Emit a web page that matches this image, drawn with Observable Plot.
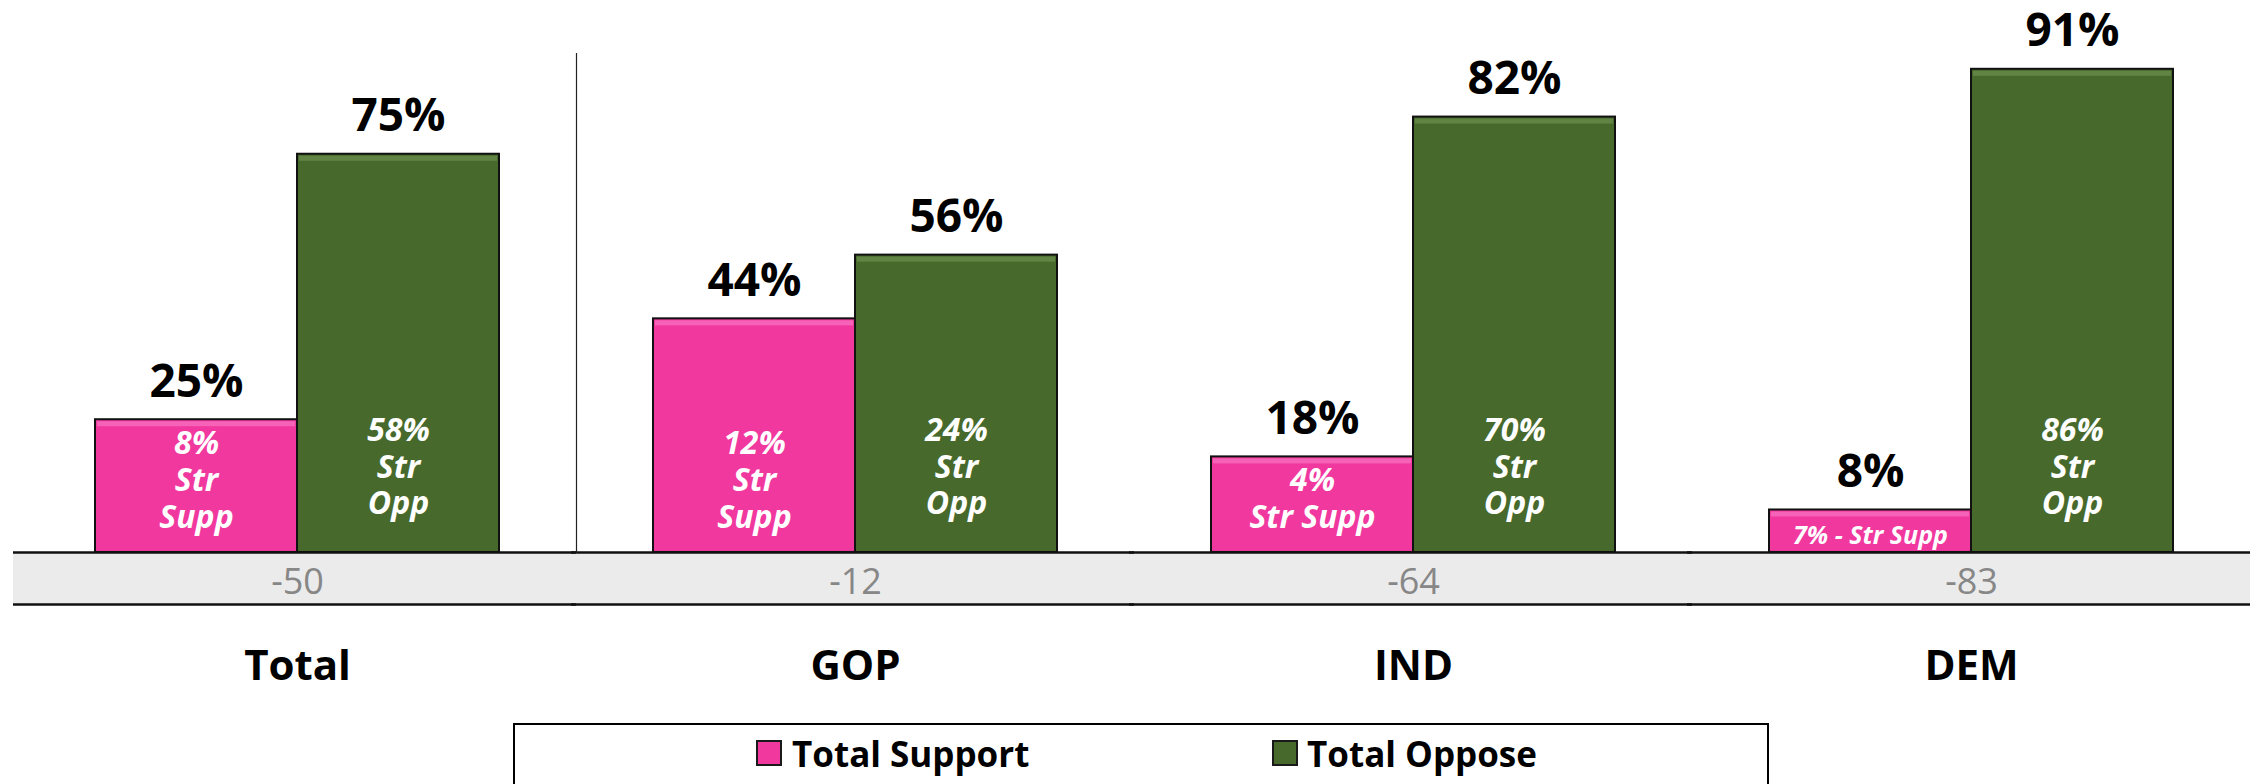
<!DOCTYPE html>
<html>
<head>
<meta charset="utf-8">
<script src="https://cdn.jsdelivr.net/npm/d3@7"></script>
<script src="https://cdn.jsdelivr.net/npm/@observablehq/plot@0.6"></script>
<style>
  html, body { margin: 0; padding: 0; background: #fff; }
  body { width: 2252px; height: 784px; overflow: hidden; font-family: "Open Sans", "DejaVu Sans", sans-serif; }
  #chart svg { display: block; }
  #legend { position: relative; margin-top: 3px; margin-left: 513px; width: 1256px; height: 80px;
            border: 2px solid #000; border-bottom: none; box-sizing: border-box; }
  .sw { position: absolute; top: 15px; width: 26px; height: 26px; border: 2px solid #1a1a1a; box-sizing: border-box; }
  .lbl { position: absolute; top: 0; height: 58px; line-height: 58px;
         font-weight: 700; font-size: 35px; color: #000; white-space: nowrap; }
</style>
</head>
<body>
<div id="chart"></div>
<div id="legend"></div>
<script>
// ---- data ----
const groups = ["Total", "GOP", "IND", "DEM"];
const seriesNames = ["Total Support", "Total Oppose"];
const totalSupport = [25, 44, 18, 8];
const totalOppose = [75, 56, 82, 91];
const strongSupport = [8, 12, 4, 7];
const strongOppose = [58, 24, 70, 86];
const netDifference = [-50, -12, -64, -83];
const strongSupportLabels = ["8%\nStr\nSupp", "12%\nStr\nSupp", "4%\nStr Supp", "7% - Str Supp"];
const strongOpposeLabels = strongOppose.map(v => `${v}%\nStr\nOpp`);
const seriesColors = ["#F0389F", "#476A2C"];
const highlightColors = ["#F870C0", "#6A8C4C"];
const dividerAfter = "GOP";

// ---- tables ----
const bars = groups.flatMap((g, i) => [
  {group: g, series: seriesNames[0], value: totalSupport[i]},
  {group: g, series: seriesNames[1], value: totalOppose[i]}
]);
const rows = groups.map((g, i) => ({
  group: g, supp: strongSupport[i], opp: strongOppose[i],
  suppLabel: strongSupportLabels[i], oppLabel: strongOpposeLabels[i], diff: netDifference[i]
}));

const yMin = -9.8;
const font = "'Open Sans', 'DejaVu Sans', sans-serif";

const chart = Plot.plot({
  width: 2252,
  height: 720,
  marginTop: 21,
  marginBottom: 116,
  marginLeft: 17,
  marginRight: 2,
  style: {fontFamily: font, background: "white"},
  fx: {domain: groups, padding: 0, axis: null},
  x: {domain: seriesNames, paddingInner: 0, paddingOuter: 0.38, axis: null},
  y: {domain: [yMin, 100], axis: null},
  color: {domain: seriesNames, range: seriesColors},
  marks: [
    // grey difference band
    Plot.barY(rows, {fx: "group", y1: yMin, y2: 0, fill: "#EBEBEB", insetLeft: -5}),
    // bars
    Plot.barY(bars, {fx: "group", x: "series", y: "value", fill: "series", stroke: "#111", strokeWidth: 2}),
    // top highlight strip
    Plot.barY(bars, {fx: "group", x: "series", y1: "value", y2: "value", insetTop: 2, insetBottom: -7,
                     insetLeft: 2, insetRight: 2,
                     fill: d => highlightColors[seriesNames.indexOf(d.series)], fillOpacity: 0.75}),
    // band lines
    Plot.ruleY([0, yMin], {stroke: "#111", strokeWidth: 2.5, insetLeft: -5}),
    // divider
    Plot.frame({fx: () => dividerAfter, anchor: "left", stroke: "#222", strokeWidth: 1.2, insetTop: 32, insetBottom: 52}),
    // value labels
    Plot.text(bars, {fx: "group", x: "series", y: "value", text: d => `${d.value}%`,
                     lineAnchor: "bottom", dy: -23, fontSize: 46, fontWeight: "bold", fill: "#000"}),
    // strong oppose labels
    Plot.text(rows, {fx: "group", x: () => seriesNames[1], y: () => 0, text: "oppLabel",
                     lineAnchor: "bottom", dy: -38, lineHeight: 1.15, fontSize: 32,
                     fontWeight: "bold", fontStyle: "italic", fill: "white"}),
    // strong support labels (multi-line)
    Plot.text(rows.filter(d => d.suppLabel.includes("\n")), {fx: "group", x: () => seriesNames[0], y: () => 0,
                     text: "suppLabel", lineAnchor: "bottom", dy: -24, lineHeight: 1.17, fontSize: 32,
                     fontWeight: "bold", fontStyle: "italic", fill: "white"}),
    // strong support labels (single line)
    Plot.text(rows.filter(d => !d.suppLabel.includes("\n")), {fx: "group", x: () => seriesNames[0], y: () => 0,
                     text: "suppLabel", lineAnchor: "bottom", dy: -8, fontSize: 25,
                     fontWeight: "bold", fontStyle: "italic", fill: "white"}),
    // net difference
    Plot.text(rows, {fx: "group", text: d => String(d.diff), frameAnchor: "bottom", lineAnchor: "bottom",
                     dy: -11, fontSize: 36, fill: "#878787"}),
    // category labels
    Plot.text(rows, {fx: "group", text: "group", frameAnchor: "bottom", lineAnchor: "top",
                     dy: 46, fontSize: 42, fontWeight: "bold", fill: "#000"})
  ]
});
document.getElementById("chart").appendChild(chart);

// legend
const legend = document.getElementById("legend");
const swatchX = [241, 757];
const labelX = [277, 792];
seriesNames.forEach((name, i) => {
  const sw = document.createElement("span");
  sw.className = "sw";
  sw.style.left = swatchX[i] + "px";
  sw.style.background = seriesColors[i];
  const label = document.createElement("span");
  label.className = "lbl";
  label.style.left = labelX[i] + "px";
  label.textContent = name;
  legend.appendChild(sw);
  legend.appendChild(label);
});
</script>
</body>
</html>
